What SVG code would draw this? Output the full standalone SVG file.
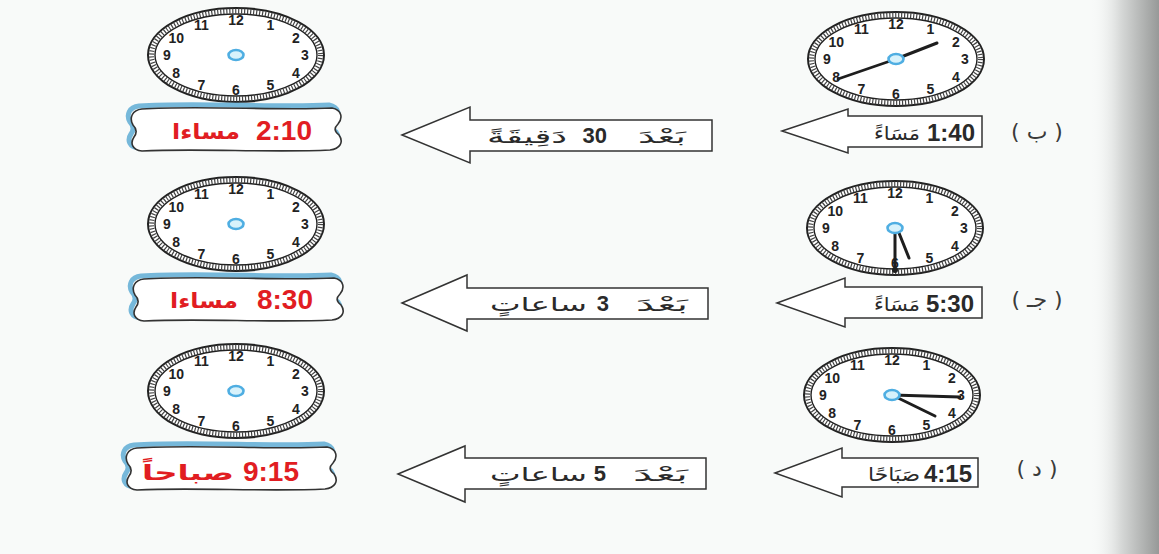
<svg xmlns="http://www.w3.org/2000/svg" xmlns:xlink="http://www.w3.org/1999/xlink" width="1159" height="554" viewBox="0 0 1159 554">
<style>
.num{font-family:"Liberation Sans","DejaVu Sans",sans-serif;font-weight:bold;font-size:14px;fill:#222;text-anchor:middle}
.hand{stroke:#1e1e1e;stroke-linecap:round;fill:none}
.arrow{fill:#fff;stroke:#333;stroke-width:1.5;stroke-linejoin:miter}
.ar{font-family:"DejaVu Sans","Noto Sans",sans-serif;font-size:19px;fill:#2a2a2a;text-anchor:end}
.dig{font-family:"Liberation Sans","DejaVu Sans",sans-serif;font-weight:bold;font-size:22px;fill:#2a2a2a;text-anchor:end}
.dig2{font-family:"Liberation Sans","DejaVu Sans",sans-serif;font-weight:bold;font-size:24px;fill:#2a2a2a;text-anchor:end}
.red{font-family:"Liberation Sans","DejaVu Sans",sans-serif;font-weight:bold;font-size:28px;fill:#e11d22;text-anchor:end}
.redar{font-family:"DejaVu Sans",sans-serif;font-weight:bold;font-size:21px;fill:#e11d22;text-anchor:end}
.lbl{font-family:"DejaVu Sans",sans-serif;font-size:22px;fill:#3a3a3a;text-anchor:middle}
</style>
<defs>
<linearGradient id="edge" x1="0" y1="0" x2="1" y2="0">
<stop offset="0" stop-color="#f8faf9" stop-opacity="0"/>
<stop offset="0.45" stop-color="#d6d8d7"/>
<stop offset="1" stop-color="#979998"/>
</linearGradient>
<g id="face">
<ellipse rx="88" ry="47" fill="#fff" stroke="#222" stroke-width="2"/>
<ellipse rx="84.5" ry="44" fill="none" stroke="#444" stroke-width="5" stroke-dasharray="1.2 1.8"/>
<ellipse rx="81" ry="41" fill="none" stroke="#222" stroke-width="1.4"/>
<text class="num" x="34.5" y="-25.3">1</text>
<text class="num" x="59.8" y="-12.5">2</text>
<text class="num" x="69" y="5">3</text>
<text class="num" x="59.8" y="22.5">4</text>
<text class="num" x="34.5" y="35.3">5</text>
<text class="num" x="0" y="40">6</text>
<text class="num" x="-34.5" y="35.3">7</text>
<text class="num" x="-59.8" y="22.5">8</text>
<text class="num" x="-69" y="5">9</text>
<text class="num" x="-59.8" y="-12.5">10</text>
<text class="num" x="-34.5" y="-25.3">11</text>
<text class="num" x="0" y="-30">12</text>
</g>
<g id="hub"><ellipse rx="7.5" ry="5" fill="#d8f2fb" stroke="#4faee2" stroke-width="2.6"/></g>
<g id="scroll">
<path d="M142,109 C200,105 280,111 332,108 C342,110 343,118 338,124 C334,128 334,131 339,135 C344,142 340,149 330,150 C270,153 200,148 142,151 C132,150 130,143 134,137 C137,133 137,129 133,125 C129,118 132,110 142,109 Z" transform="translate(-3,-3)" fill="none" stroke="#76b8da" stroke-width="5"/>
<path d="M142,109 C200,105 280,111 332,108 C342,110 343,118 338,124 C334,128 334,131 339,135 C344,142 340,149 330,150 C270,153 200,148 142,151 C132,150 130,143 134,137 C137,133 137,129 133,125 C129,118 132,110 142,109 Z" fill="#fff" stroke="#333" stroke-width="1.6"/>
</g>
</defs>
<rect width="1159" height="554" fill="#f8faf9"/>
<rect x="1090" y="0" width="69" height="554" fill="url(#edge)"/>

<g id="connectors">
<g id="arrow-b">
<path class="arrow" d="M402,135 L470,107 L470,120 L712,120 L712,151 L470,151 L470,163 Z"/>
<text class="ar" x="567" y="143" textLength="80" lengthAdjust="spacingAndGlyphs">دَقِيقَةً</text>
<text class="dig" x="607" y="143">30</text>
<text class="ar" x="686" y="143" textLength="48" lengthAdjust="spacingAndGlyphs">بَعْدَ</text>
</g>
<g id="arrow-j">
<path class="arrow" d="M402,303 L467,275 L467,288 L708,288 L708,319 L467,319 L467,331 Z"/>
<text class="ar" x="587" y="311" textLength="97" lengthAdjust="spacingAndGlyphs">ساعاتٍ</text>
<text class="dig" x="609" y="311">3</text>
<text class="ar" x="688" y="311" textLength="52" lengthAdjust="spacingAndGlyphs">بَعْدَ</text>
</g>
<g id="arrow-d">
<path class="arrow" d="M398,474 L465,446 L465,458 L706,458 L706,489 L465,489 L465,502 Z"/>
<text class="ar" x="587" y="481" textLength="97" lengthAdjust="spacingAndGlyphs">ساعاتٍ</text>
<text class="dig" x="606" y="481">5</text>
<text class="ar" x="688" y="481" textLength="55" lengthAdjust="spacingAndGlyphs">بَعْدَ</text>
</g>
</g>

<g id="row-b-start">
<use href="#face" x="896" y="59"/>
<line class="hand" x1="896" y1="59" x2="838" y2="79" stroke-width="2.8"/>
<line class="hand" x1="896" y1="59" x2="937" y2="43" stroke-width="3"/>
<use href="#hub" x="896" y="59"/>
<path class="arrow" d="M782,131 L848,109 L848,116 L982,116 L982,147 L848,147 L848,153 Z"/>
<text class="ar" x="920" y="140" font-size="19" textLength="46" lengthAdjust="spacingAndGlyphs">مَسَاءً</text>
<text class="dig2" x="975" y="141">1:40</text>
<text class="lbl" x="1037" y="139">(  ب  )</text>
</g>
<g id="row-j-start">
<use href="#face" x="895" y="228"/>
<line class="hand" x1="895" y1="228" x2="895" y2="270" stroke-width="3"/>
<circle cx="895" cy="270" r="3" fill="#1e1e1e"/>
<line class="hand" x1="897" y1="228" x2="909" y2="258" stroke-width="3"/>
<use href="#hub" x="895" y="228"/>
<path class="arrow" d="M777,303 L845,278 L845,287 L982,287 L982,318 L845,318 L845,327 Z"/>
<text class="ar" x="920" y="311" font-size="19" textLength="46" lengthAdjust="spacingAndGlyphs">مَسَاءً</text>
<text class="dig2" x="974" y="312">5:30</text>
<text class="lbl" x="1037" y="307">(  جـ  )</text>
</g>
<g id="row-d-start">
<use href="#face" x="892" y="395"/>
<line class="hand" x1="892" y1="395" x2="960" y2="397" stroke-width="2.8"/>
<line class="hand" x1="892" y1="395" x2="935" y2="416" stroke-width="3"/>
<use href="#hub" x="892" y="395"/>
<path class="arrow" d="M775,473 L842,448 L842,458 L978,458 L978,487 L842,487 L842,497 Z"/>
<text class="ar" x="920" y="481" font-size="19" textLength="52" lengthAdjust="spacingAndGlyphs">صَبَاحًا</text>
<text class="dig2" x="972" y="482">4:15</text>
<text class="lbl" x="1037" y="476">(  د  )</text>
</g>

<g id="row-b-answer">
<use href="#face" x="236" y="55"/>
<use href="#hub" x="236" y="55"/>
<use href="#scroll"/>
<text class="redar" x="240" y="139" textLength="68" lengthAdjust="spacingAndGlyphs">مساءا</text>
<text class="red" x="312" y="140">2:10</text>
</g>
<g id="row-j-answer">
<use href="#face" x="236" y="224"/>
<use href="#hub" x="236" y="224"/>
<use href="#scroll" x="2" y="170"/>
<text class="redar" x="238" y="308" textLength="68" lengthAdjust="spacingAndGlyphs">مساءا</text>
<text class="red" x="313" y="309">8:30</text>
</g>
<g id="row-d-answer">
<use href="#face" x="236" y="391"/>
<use href="#hub" x="236" y="391"/>
<use href="#scroll" x="-5" y="339"/>
<text class="redar" x="234" y="480" textLength="92" lengthAdjust="spacingAndGlyphs">صباحاً</text>
<text class="red" x="299" y="481">9:15</text>
</g>
</svg>
